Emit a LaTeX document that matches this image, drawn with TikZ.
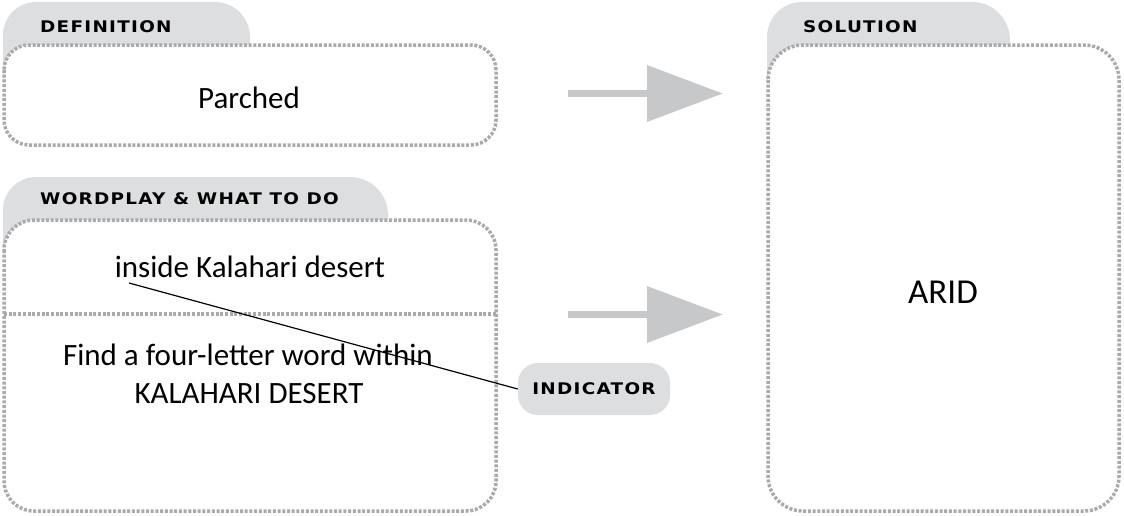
\documentclass[tikz,border=0pt]{standalone}
\usepackage{fontspec}
\setmainfont{Carlito}
\newfontfamily\labelfont[FakeStretch=1.15, LetterSpace=8]{DejaVu Sans Bold}
\usetikzlibrary{arrows.meta}
\definecolor{tabgray}{RGB}{221,222,224}
\definecolor{arrowgray}{RGB}{199,200,202}
\definecolor{dotgray}{RGB}{170,170,172}
\begin{document}
\begin{tikzpicture}[x=1pt,y=1pt,
  tab/.style={fill=tabgray},
  dotbox/.style={draw=dotgray, line width=3.5pt, dash pattern=on 3pt off 1.7pt, fill=white},
  dotline/.style={draw=dotgray, line width=3.5pt, dash pattern=on 3pt off 1.7pt},
  lbl/.style={font=\labelfont\fontsize{16}{19}\selectfont, inner sep=0pt, anchor=base west},
  body/.style={font=\fontsize{31}{36}\selectfont, inner sep=0pt, anchor=base},
  indic/.style={fill=tabgray, rounded corners=20pt, minimum width=152pt, minimum height=52pt, inner sep=0pt, font=\labelfont\fontsize{16}{19}\selectfont},
  bigarrow/.style={draw=arrowgray, line width=7pt, -{Triangle[length=76pt,width=55pt]}},
  pointer/.style={draw=black, line width=1.2pt},
]
\useasboundingbox (0,0) rectangle (1124,-515);

% Definition panel
\fill[tab] (3,-80) -- (3,-35) arc[start angle=180,end angle=90,radius=33] -- (215,-2) arc[start angle=90,end angle=0,radius=35] -- (250,-37) -- (250,-80) -- cycle;
\draw[dotbox, rounded corners=25pt] (4,-45) rectangle (496,-145);

% Wordplay panel
\fill[tab] (3,-250) -- (3,-210) arc[start angle=180,end angle=90,radius=33] -- (350,-177) arc[start angle=90,end angle=0,radius=38] -- (388,-215) -- (388,-250) -- cycle;
\draw[dotbox, rounded corners=30pt] (4,-220) rectangle (496,-511);
\draw[dotline] (4,-314) -- (496,-314);

% Solution panel
\fill[tab] (767,-80) -- (767,-37) arc[start angle=180,end angle=90,radius=35] -- (972,-2) arc[start angle=90,end angle=0,radius=38] -- (1010,-40) -- (1010,-80) -- cycle;
\draw[dotbox, rounded corners=35pt] (768,-45) rectangle (1119,-511);

% Labels
\node[lbl] (deflbl) at (40,-32) {DEFINITION};
\node[lbl] (wplbl) at (40,-204) {WORDPLAY \& WHAT TO DO};
\node[lbl] (sollbl) at (803,-32) {SOLUTION};

% Texts
\node[body] (defn) at (249,-108) {Parched};
\node[body] (clue) at (250,-277) {inside Kalahari desert};
\node[body] (do1) at (248,-365) {Find a four-letter word within};
\node[body] (do2) at (249,-403) {KALAHARI DESERT};
\node[body, font=\fontsize{35}{40}\selectfont] (ans) at (943,-303) {ARID};

% Indicator
\node[indic] (ind) at (594,-389) {INDICATOR};
\coordinate (lnstart) at (129,-283);
\draw[pointer] (lnstart) -- (ind.west);

% Arrows
\coordinate (a1s) at (568,-93.5);
\coordinate (a1e) at (723,-93.5);
\coordinate (a2s) at (568,-314.5);
\coordinate (a2e) at (723,-314.5);
\draw[bigarrow] (a1s) -- (a1e);
\draw[bigarrow] (a2s) -- (a2e);
\end{tikzpicture}
\end{document}
